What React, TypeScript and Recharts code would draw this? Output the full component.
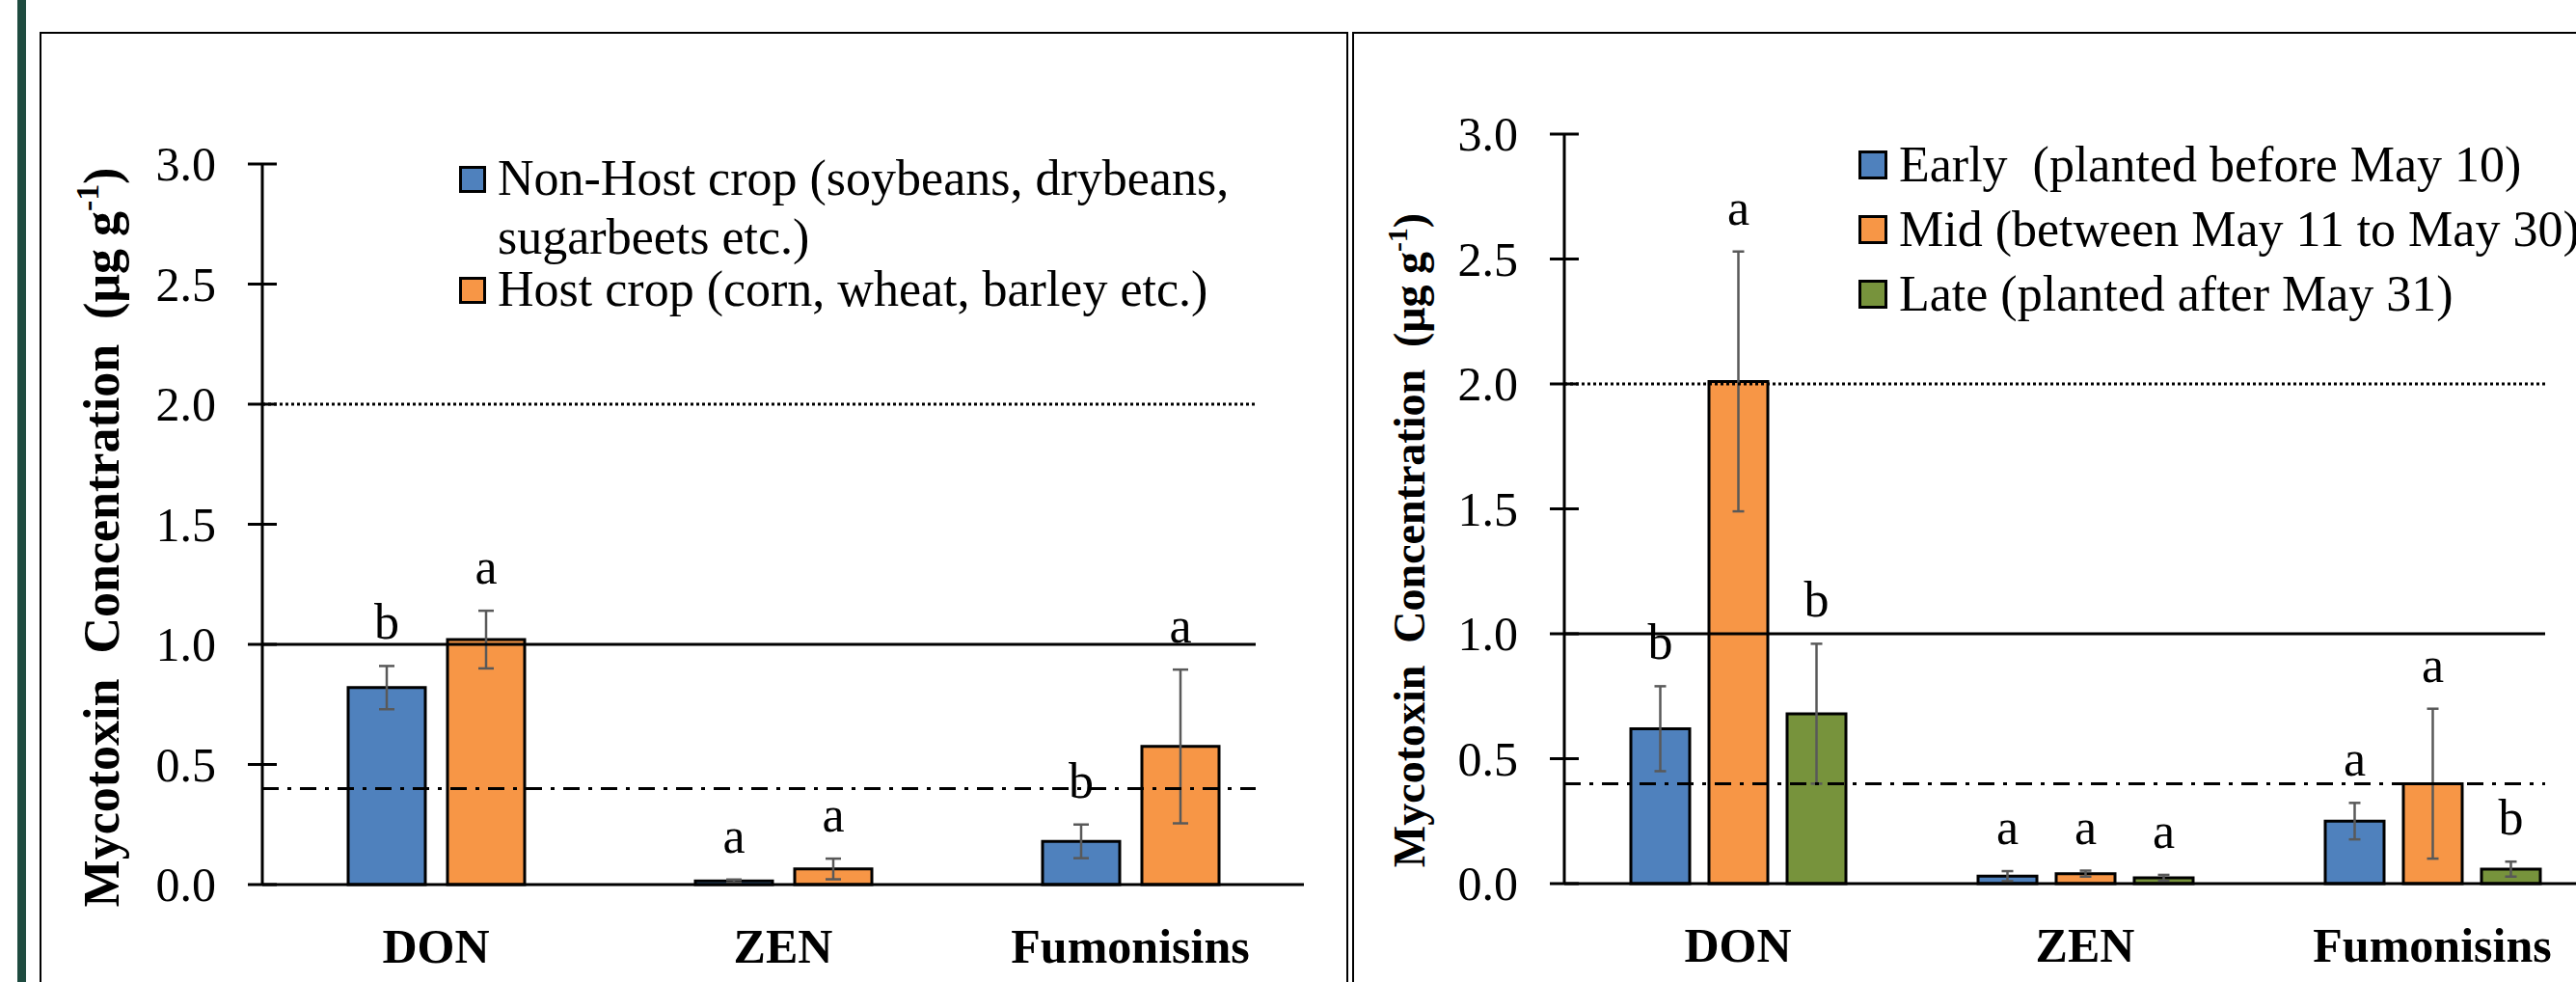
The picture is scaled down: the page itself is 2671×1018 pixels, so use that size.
import React from 'react';
import { BarChart, Bar, XAxis, YAxis, ErrorBar, ReferenceLine, LabelList, Legend } from 'recharts';

const FONT = "'Liberation Serif', 'Times New Roman', serif";

// ---- shared ----
const categories = ['DON', 'ZEN', 'Fumonisins'];
const yTicks = [0, 0.5, 1, 1.5, 2, 2.5, 3];
const thresholdValues = [2.0, 1.0, 0.4];
const thresholdKinds = ['dotted', 'solid', 'dashdot'];

// ---- panel 1: previous crop ----
const nonHostValues = [0.82, 0.015, 0.18];
const nonHostErrors = [0.09, 0.006, 0.07];
const nonHostLetters = ['b', 'a', 'b'];
const nonHostName = ['Non-Host crop (soybeans, drybeans,', 'sugarbeets etc.)'];

const hostValues = [1.02, 0.065, 0.575];
const hostErrors = [0.12, 0.043, 0.32];
const hostLetters = ['a', 'a', 'a'];
const hostName = ['Host crop (corn, wheat, barley etc.)'];

// ---- panel 2: planting date ----
const earlyValues = [0.62, 0.03, 0.25];
const earlyErrors = [0.17, 0.02, 0.073];
const earlyLetters = ['b', 'a', 'a'];
const earlyName = ['Early  (planted before May 10)'];

const midValues = [2.01, 0.04, 0.4];
const midErrors = [0.52, 0.012, 0.3];
const midLetters = ['a', 'a', 'a'];
const midName = ['Mid (between May 11 to May 30)'];

const lateValues = [0.68, 0.023, 0.058];
const lateErrors = [0.28, 0.012, 0.03];
const lateLetters = ['b', 'a', 'b'];
const lateName = ['Late (planted after May 31)'];

const BLUE = '#4F81BD';
const ORANGE = '#F79646';
const GREEN = '#77933C';

const cropSeries = [
  { key: 'nonHost', name: nonHostName, values: nonHostValues, errors: nonHostErrors, letters: nonHostLetters, color: BLUE },
  { key: 'host', name: hostName, values: hostValues, errors: hostErrors, letters: hostLetters, color: ORANGE },
];
const dateSeries = [
  { key: 'early', name: earlyName, values: earlyValues, errors: earlyErrors, letters: earlyLetters, color: BLUE },
  { key: 'mid', name: midName, values: midValues, errors: midErrors, letters: midLetters, color: ORANGE },
  { key: 'late', name: lateName, values: lateValues, errors: lateErrors, letters: lateLetters, color: GREEN },
];

function buildRows(series: any[]) {
  return categories.map((c, i) => {
    const row: any = { category: c };
    series.forEach((s) => {
      row[s.key] = s.values[i];
      row[s.key + 'Err'] = s.errors[i];
      row[s.key + 'Letter'] = s.letters[i];
    });
    return row;
  });
}

const H = 1018;
const YW = 100;
const XH = 60;
const PLOT_W = 1080;

const leftCfg = {
  width: 1400,
  top: 170,
  bottom: 917,
  plotLeft: 272,
  series: cropSeries,
  barSize: 80,
  barGap: 23,
  errWidth: 8,
  lineTrim: 50,
  title: { tx: 123, ty: 557, fs: 52 },
  legend: { sqX: 476, sqSize: 28, textX: 516, firstBaseline: 202, lineGap: 61, entryGap: 54 },
};
const rightCfg = {
  width: 1400,
  top: 139,
  bottom: 916,
  plotLeft: 222,
  series: dateSeries,
  barSize: 61,
  barGap: 20,
  errWidth: 6,
  lineTrim: 63,
  title: { tx: 77, ty: 560, fs: 46 },
  legend: { sqX: 527, sqSize: 30, textX: 569, firstBaseline: 188, lineGap: 61, entryGap: 67 },
};

const YTick = (p: any) => {
  const v = p.payload && p.payload.value;
  return (
    <g>
      <line x1={p.x - 15} x2={p.x + 15} y1={p.y} y2={p.y} stroke="#000" strokeWidth={3} />
      <text x={p.x - 48} y={p.y + 17} textAnchor="end" fontSize={50} fontFamily={FONT} fill="#000">
        {Number(v).toFixed(1)}
      </text>
    </g>
  );
};

const XTick = (p: any) => (
  <text x={p.x} y={p.y + 81} textAnchor="middle" fontSize={50} fontWeight="bold" fontFamily={FONT} fill="#000">
    {p.payload && p.payload.value}
  </text>
);

const YTitle = (p: any) => (
  <text
    transform={`rotate(-90, ${p.tx}, ${p.ty})`}
    x={p.tx}
    y={p.ty}
    textAnchor="middle"
    fontSize={p.fs}
    fontWeight="bold"
    fontFamily={FONT}
    fill="#000"
    style={{ whiteSpace: 'pre' }}
  >
    {'Mycotoxin  Concentration  (\u03bcg g'}
    <tspan dy={-p.fs * 0.4} fontSize={p.fs * 0.65}>-1</tspan>
    <tspan dy={p.fs * 0.4}>)</tspan>
  </text>
);

function makeLetter(rows: any[], key: string) {
  return (props: any) => {
    const vb = props.viewBox && props.viewBox.width !== undefined ? props.viewBox : props;
    const idx = props.index;
    const row = rows[idx];
    if (!row || vb == null) return null;
    const v = row[key];
    const e = row[key + 'Err'];
    const ppu = v > 0 ? Math.abs(vb.height) / v : 0;
    const top = Math.min(vb.y, vb.y + vb.height) - e * ppu;
    return (
      <text x={vb.x + vb.width / 2} y={top - 28} textAnchor="middle" fontSize={52} fontFamily={FONT} fill="#000">
        {props.value}
      </text>
    );
  };
}

function dashFor(kind: string) {
  if (kind === 'dotted') return '3 3';
  if (kind === 'dashdot') return '17 9 4 9';
  return undefined;
}

function Panel({ cfg }: { cfg: any }) {
  const rows = buildRows(cfg.series);
  const lg = cfg.legend;
  const legendItems: any[] = [];
  let base = lg.firstBaseline;
  cfg.series.forEach((s: any, si: number) => {
    if (si > 0) base += lg.entryGap;
    const lines = s.name.map((t: string, li: number) => ({ t, b: base + li * lg.lineGap }));
    legendItems.push({ color: s.color, key: s.key, lines, first: base });
    base = base + (s.name.length - 1) * lg.lineGap;
  });

  return (
    <BarChart
      width={cfg.width}
      height={H}
      data={rows}
      margin={{
        top: cfg.top,
        bottom: H - cfg.bottom - XH,
        left: cfg.plotLeft - YW,
        right: cfg.width - cfg.plotLeft - PLOT_W,
      }}
      barGap={cfg.barGap}
      barSize={cfg.barSize}
    >
      <XAxis
        dataKey="category"
        height={XH}
        axisLine={{ stroke: '#000', strokeWidth: 3 }}
        tickLine={false}
        tickSize={0}
        tickMargin={0}
        interval={0}
        tick={<XTick />}
      />
      <YAxis
        type="number"
        domain={[0, 3]}
        ticks={yTicks}
        width={YW}
        axisLine={{ stroke: '#000', strokeWidth: 3 }}
        tickLine={false}
        tickSize={0}
        tickMargin={0}
        interval={0}
        tick={<YTick />}
        label={<YTitle tx={cfg.title.tx} ty={cfg.title.ty} fs={cfg.title.fs} />}
      />
      {cfg.series.map((s: any) => (
        <Bar key={s.key} dataKey={s.key} fill={s.color} stroke="#000" strokeWidth={3} isAnimationActive={false}>
          <ErrorBar dataKey={s.key + 'Err'} width={cfg.errWidth} stroke="#595959" strokeWidth={2.5} direction="y" />
          <LabelList dataKey={s.key + 'Letter'} content={makeLetter(rows, s.key)} />
        </Bar>
      ))}
      {thresholdValues.map((tv, i) => (
        <ReferenceLine
          key={'t' + i}
          y={tv}
          stroke="#000"
          strokeWidth={3}
          shape={(p: any) => {
            const xa = Math.min(p.x1, p.x2);
            const xb = Math.max(p.x1, p.x2) - cfg.lineTrim;
            return (
              <line
                x1={xa}
                x2={xb}
                y1={p.y1}
                y2={p.y2}
                stroke="#000"
                strokeWidth={3}
                strokeDasharray={dashFor(thresholdKinds[i])}
              />
            );
          }}
        />
      ))}
      <Legend
        layout="vertical"
        align="center"
        verticalAlign="middle"
        wrapperStyle={{ left: 0, top: 0, width: cfg.width, height: H, pointerEvents: 'none' }}
        content={() => (
          <svg width={cfg.width} height={H} style={{ position: 'absolute', left: 0, top: 0 }}>
            {legendItems.map((it) => (
              <g key={it.key}>
                <rect
                  x={lg.sqX + 1.5}
                  y={it.first - 2 - lg.sqSize + 1.5}
                  width={lg.sqSize - 3}
                  height={lg.sqSize - 3}
                  fill={it.color}
                  stroke="#000"
                  strokeWidth={3}
                />
                {it.lines.map((ln: any, k: number) => (
                  <text
                    key={k}
                    x={lg.textX}
                    y={ln.b}
                    fontSize={52}
                    fontFamily={FONT}
                    fill="#000"
                    style={{ whiteSpace: 'pre' }}
                  >
                    {ln.t}
                  </text>
                ))}
              </g>
            ))}
          </svg>
        )}
      />
    </BarChart>
  );
}

export default function App() {
  return (
    <div
      style={{
        position: 'fixed',
        left: 0,
        top: 0,
        width: 2671,
        height: 1018,
        overflow: 'hidden',
        background: '#fff',
        fontFamily: FONT,
      }}
    >
      <div style={{ position: 'absolute', left: 18, top: 0, width: 9, height: 1018, background: '#1E4B40' }} />
      <div
        style={{
          position: 'absolute',
          left: 41,
          top: 33,
          width: 1357,
          height: 1100,
          border: '2px solid #000',
          boxSizing: 'border-box',
        }}
      />
      <div
        style={{
          position: 'absolute',
          left: 1402,
          top: 33,
          width: 1400,
          height: 1100,
          border: '2px solid #000',
          boxSizing: 'border-box',
        }}
      />
      <div style={{ position: 'absolute', left: 0, top: 0 }}>
        <Panel cfg={leftCfg} />
      </div>
      <div style={{ position: 'absolute', left: 1400, top: 0 }}>
        <Panel cfg={rightCfg} />
      </div>
    </div>
  );
}
